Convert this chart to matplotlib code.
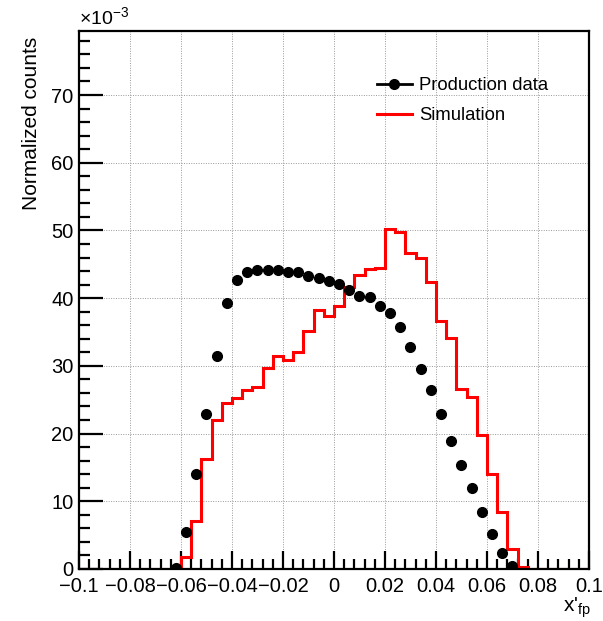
import numpy as np
import matplotlib
matplotlib.use("Agg")
import matplotlib.pyplot as plt
from matplotlib.lines import Line2D

plt.rcParams['font.family'] = ['Liberation Sans', 'DejaVu Sans']
plt.rcParams['mathtext.default'] = 'regular'

# binning: 50 bins on [-0.1, 0.1]
edges = np.linspace(-0.1, 0.1, 51)
centers = 0.5 * (edges[:-1] + edges[1:])

# production data (x1e-3), bins -0.062 ... 0.070, zero elsewhere
data_vals = [0.2, 5.4, 14.0, 22.9, 31.5, 39.3, 42.7, 43.9, 44.1, 44.2,
             44.1, 43.9, 43.8, 43.3, 43.0, 42.5, 42.1, 41.2, 40.3, 40.1,
             38.9, 37.8, 35.7, 32.8, 29.6, 26.5, 22.9, 18.9, 15.4, 11.9,
             8.4, 5.1, 2.4, 0.45]
data_first_bin = 9

# simulation (x1e-3), bins [-0.060,-0.056] ... [0.072,0.076]
sim_vals = [1.8, 7.1, 16.3, 22.0, 24.5, 25.2, 26.5, 26.9, 29.7, 31.5,
            30.9, 32.0, 35.2, 38.2, 37.3, 38.8, 41.7, 43.4, 44.3, 44.4,
            50.2, 49.8, 46.6, 46.0, 42.4, 36.7, 34.1, 26.6, 25.4, 19.8,
            14.1, 8.4, 3.0, 0.3]
sim_first_bin = 10

data = np.zeros(50)
data[data_first_bin:data_first_bin + len(data_vals)] = data_vals
sim = np.zeros(50)
sim[sim_first_bin:sim_first_bin + len(sim_vals)] = sim_vals
data = data * 1e-3
sim = sim * 1e-3

fig = plt.figure(figsize=(6.03, 6.21), dpi=100)
ax = fig.add_axes([79/603, 1 - 569/621, 510/603, 538.3/621])

ax.grid(True, which='major', color='#999999', linestyle=(0, (1, 1.5)), linewidth=0.7)
ax.set_axisbelow(True)

mask = data > 0
ax.plot(centers[mask], data[mask], 'o', color='black', markersize=7, zorder=3)
ax.stairs(sim, edges, baseline=None, color='red', linewidth=2.2, zorder=2)

ax.set_xlim(-0.1, 0.1)
ax.set_ylim(0, 0.0795)

ax.set_xticks(np.arange(-0.1, 0.1001, 0.02))
ax.set_xticks(np.arange(-0.1, 0.1001, 0.004), minor=True)
ax.set_xticklabels(['\u22120.1', '\u22120.08', '\u22120.06', '\u22120.04', '\u22120.02',
                    '0', '0.02', '0.04', '0.06', '0.08', '0.1'])
ax.set_yticks(np.arange(0, 0.0701, 0.01))
ax.set_yticks(np.arange(0, 0.0795, 0.002), minor=True)
ax.set_yticklabels(['0', '10', '20', '30', '40', '50', '60', '70'])

ax.tick_params(which='both', direction='in', top=False, right=False, width=1.6,
               labelsize=14.5)
ax.tick_params(axis='x', which='major', length=13, pad=6)
ax.tick_params(axis='x', which='minor', length=7)
ax.tick_params(axis='y', which='major', length=17, pad=4)
ax.tick_params(axis='y', which='minor', length=8)
for s in ax.spines.values():
    s.set_linewidth(1.6)

ax.text(0, 1.005, r'$\times$10$^{-3}$', transform=ax.transAxes, fontsize=14,
        ha='left', va='bottom')

fig.text(32/603, 1 - 37/621, 'Normalized counts', rotation=90, ha='center',
         va='top', fontsize=15)
fig.text(591/603, 1 - 612/621, "x'$_{fp}$", ha='right', va='baseline', fontsize=15)

handles = [Line2D([], [], color='black', marker='o', markersize=7, linewidth=2),
           Line2D([], [], color='red', linewidth=2.2)]
ax.legend(handles, ['Production data', 'Simulation'], loc='upper left',
          bbox_to_anchor=(0.584, 0.914), frameon=False,
          fontsize=13.3, handlelength=1.9, handletextpad=0.4, borderpad=0,
          borderaxespad=0, labelspacing=0.73)

fig.savefig('out.png', dpi=100)
